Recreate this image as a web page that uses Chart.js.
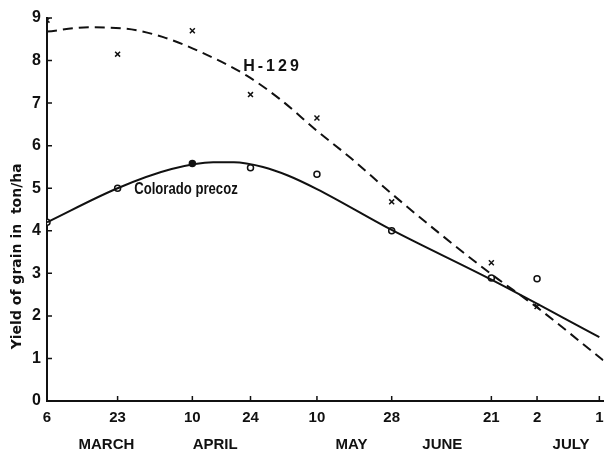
<!DOCTYPE html>
<html>
<head>
<meta charset="utf-8">
<title>Yield of grain</title>
<script src="https://cdn.jsdelivr.net/npm/chart.js@4"></script>
<style>
  html, body { margin: 0; padding: 0; background: #fff; }
  #wrap { width: 609px; height: 455px; position: relative; }
</style>
</head>
<body>
<div id="wrap"><canvas id="chart"></canvas></div>
<script>
// sowing dates, counted in days from 6 March
const tickDays = [0, 17, 35, 49, 65, 83, 107, 118, 133];
const tickLabels = ["6", "23", "10", "24", "10", "28", "21", "2", "1"];
const monthNames = ["MARCH", "APRIL", "MAY", "JUNE", "JULY"];
const monthDays = [14.3, 40.5, 73.3, 95.2, 126.2];

// observed yields (ton/ha)
const h129Days = [0, 17, 35, 49, 65, 83, 107, 118];
const h129Yield = [8.95, 8.15, 8.7, 7.2, 6.65, 4.68, 3.25, 2.22];
const coloradoDays = [0, 17, 35, 49, 65, 83, 107, 118];
const coloradoYield = [4.2, 5.0, 5.58, 5.48, 5.33, 4.0, 2.89, 2.87];

// fitted curves
const h129CurveDays = [0, 10, 19, 28, 37, 48, 56, 65, 73, 83, 95, 107, 118, 134];
const h129CurveYield = [8.68, 8.78, 8.75, 8.55, 8.2, 7.65, 7.1, 6.35, 5.72, 4.87, 3.9, 2.98, 2.2, 0.95];
const coloradoCurveDays = [0, 17, 30, 40, 45, 52, 58, 65, 83, 107, 133];
const coloradoCurveYield = [4.2, 5.0, 5.45, 5.61, 5.61, 5.5, 5.3, 4.98, 4.02, 2.85, 1.5];

const ink = "#111";
const tickFont = { family: "'Liberation Sans', Arial, sans-serif", weight: "bold" };

function toPoints(xs, ys) {
  return xs.map((x, index) => ({ x, y: ys[index] }));
}

const notes = [
  { text: "H-129", day: 54.3, value: 7.86, align: "center", spacing: "3px", squeeze: 1 },
  { text: "Colorado precoz", day: 21, value: 4.96, align: "left", spacing: "0px", squeeze: 0.82 },
];

const figureMarks = {
  id: "figureMarks",
  afterDatasetsDraw(chart) {
    const { ctx, chartArea } = chart;
    const xScale = chart.scales.x;
    const yScale = chart.scales.y;

    ctx.save();
    ctx.strokeStyle = ink;
    ctx.lineWidth = 1.5;
    ctx.beginPath();
    tickDays.forEach((day) => {
      const px = xScale.getPixelForValue(day);
      ctx.moveTo(px, chartArea.bottom);
      ctx.lineTo(px, chartArea.bottom - 5);
    });
    yScale.ticks.forEach((tick) => {
      const py = yScale.getPixelForValue(tick.value);
      ctx.moveTo(chartArea.left, py);
      ctx.lineTo(chartArea.left + 5, py);
    });
    ctx.stroke();

    ctx.fillStyle = ink;
    ctx.textBaseline = "middle";
    ctx.font = "bold 16px 'Liberation Sans', Arial, sans-serif";
    notes.forEach((note) => {
      ctx.save();
      ctx.translate(xScale.getPixelForValue(note.day), yScale.getPixelForValue(note.value));
      ctx.scale(note.squeeze, 1);
      ctx.textAlign = note.align;
      ctx.letterSpacing = note.spacing;
      ctx.fillText(note.text, 0, 0);
      ctx.restore();
    });

    ctx.translate(chartArea.left - 30, yScale.getPixelForValue(3.4));
    ctx.rotate(-Math.PI / 2);
    ctx.textAlign = "center";
    ctx.font = "bold 14px 'DejaVu Sans', sans-serif";
    ctx.fillText("Yield of grain in  ton/ha", 0, 0);
    ctx.restore();
  },
};

new Chart(document.getElementById("chart"), {
  type: "line",
  data: {
    datasets: [
      {
        label: "H-129 fitted",
        data: toPoints(h129CurveDays, h129CurveYield),
        borderColor: ink,
        borderWidth: 2,
        borderDash: [10, 6],
        pointRadius: 0,
        cubicInterpolationMode: "monotone",
      },
      {
        label: "Colorado precoz fitted",
        data: toPoints(coloradoCurveDays, coloradoCurveYield),
        borderColor: ink,
        borderWidth: 2,
        pointRadius: 0,
        cubicInterpolationMode: "monotone",
      },
      {
        label: "H-129",
        data: toPoints(h129Days, h129Yield),
        showLine: false,
        pointStyle: "crossRot",
        pointRadius: 3.5,
        pointBorderWidth: 1.5,
        pointBorderColor: ink,
      },
      {
        label: "Colorado precoz",
        data: toPoints(coloradoDays, coloradoYield),
        showLine: false,
        pointStyle: "circle",
        pointRadius: 3,
        pointBorderWidth: 1.5,
        pointBorderColor: ink,
        pointBackgroundColor: coloradoDays.map((day, index) => (index === 2 ? ink : "#fff")),
      },
    ],
  },
  options: {
    responsive: true,
    maintainAspectRatio: false,
    animation: false,
    layout: { padding: { top: 18, right: 0, bottom: 0, left: 0 } },
    plugins: {
      legend: { display: false },
      tooltip: { enabled: false },
    },
    scales: {
      x: {
        type: "linear",
        min: 0,
        max: 134,
        weight: 0,
        grid: { display: false, drawTicks: false },
        border: { display: true, color: ink, width: 2 },
        afterBuildTicks: (scale) => {
          scale.ticks = tickDays.map((value) => ({ value }));
        },
        afterFit: (scale) => {
          scale.height = 28;
          scale.paddingLeft = 0;
          scale.paddingRight = 0;
        },
        ticks: {
          color: ink,
          padding: 8,
          maxRotation: 0,
          autoSkip: false,
          font: { ...tickFont, size: 15 },
          callback: (value) => tickLabels[tickDays.indexOf(value)] ?? "",
        },
      },
      months: {
        type: "linear",
        position: "bottom",
        min: 0,
        max: 134,
        weight: 1,
        grid: { display: false, drawTicks: false },
        border: { display: false },
        afterBuildTicks: (scale) => {
          scale.ticks = monthDays.map((value) => ({ value }));
        },
        afterFit: (scale) => {
          scale.height = 26;
          scale.paddingLeft = 0;
          scale.paddingRight = 0;
        },
        ticks: {
          color: ink,
          padding: 7,
          maxRotation: 0,
          autoSkip: false,
          font: { ...tickFont, size: 15 },
          callback: (value) => monthNames[monthDays.indexOf(value)] ?? "",
        },
      },
      y: {
        min: 0,
        max: 9,
        grid: { display: false, drawTicks: false },
        border: { display: true, color: ink, width: 2 },
        afterFit: (scale) => {
          scale.width = 47;
        },
        ticks: {
          color: ink,
          stepSize: 1,
          padding: 6,
          font: { ...tickFont, size: 16 },
        },
      },
    },
  },
  plugins: [figureMarks],
});
</script>
</body>
</html>
